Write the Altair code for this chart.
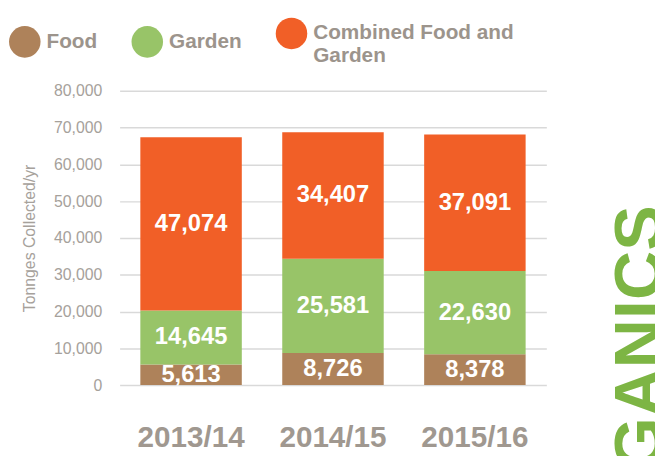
import altair as alt
import pandas as pd

years = ["2013/14", "2014/15", "2015/16"]
series = ["Food", "Garden", "Combined Food and Garden"]
food = [5613, 8726, 8378]
garden = [14645, 25581, 22630]
combined = [47074, 34407, 37091]
colors = ["#AE825A", "#98C468", "#F15F27"]
y_ticks = [0, 10000, 20000, 30000, 40000, 50000, 60000, 70000, 80000]
side_text = ["ORGANICS"]

rows = []
for i, yr in enumerate(years):
    for k, (s, vals) in enumerate(zip(series, [food, garden, combined])):
        rows.append({"year": yr, "series": s, "value": vals[i], "order": k})
df = pd.DataFrame(rows)

base = alt.Chart(df).transform_stack(
    stack="value", groupby=["year"], as_=["v0", "v1"], sort=[alt.SortField("order")]
).transform_calculate(mid="(datum.v0 + datum.v1) / 2")

xaxis = alt.Axis(
    labelFont="Liberation Sans",
    labelFontSize=30,
    labelFontWeight="bold",
    labelColor="#A09890",
    labelPadding=38,
    labelAngle=0,
    ticks=False,
    domain=False,
    grid=False,
)
xscale = alt.Scale(paddingInner=0.285, paddingOuter=0.146)

yaxis = alt.Axis(
    values=y_ticks,
    labelExpr="format(datum.value, ',')",
    labelFont="Liberation Sans",
    labelFontSize=16,
    labelColor="#A6A19B",
    labelPadding=18,
    ticks=False,
    domain=False,
    grid=True,
    gridColor="#D9D9D9",
    gridWidth=1.5,
    titleFont="Liberation Sans",
    titleFontSize=16,
    titleFontWeight="normal",
    titleColor="#A6A19B",
    titlePadding=16,
)
yscale = alt.Scale(domain=[0, 80000], nice=False)
ytitle = "Tonnges Collected/yr"

bars = base.mark_bar().encode(
    x=alt.X("year:N", title=None, sort=years, scale=xscale, axis=xaxis),
    y=alt.Y("v0:Q", title=ytitle, scale=yscale, axis=yaxis),
    y2="v1:Q",
    color=alt.Color(
        "series:N",
        scale=alt.Scale(domain=series, range=colors),
        legend=alt.Legend(
            title=None,
            orient="none",
            legendX=-112,
            legendY=-74,
            direction="horizontal",
            symbolType="circle",
            symbolSize=1018,
            symbolStrokeWidth=0,
            labelFont="Liberation Sans",
            labelFontSize=21,
            labelFontWeight="bold",
            labelColor="#9C948C",
            labelOffset=6,
            labelLimit=400,
            columnPadding=34,
            labelExpr="datum.label == 'Combined Food and Garden' ? ['Combined Food and', 'Garden'] : datum.label",
        ),
    ),
    order=alt.Order("order:Q"),
)

labels = base.mark_text(
    font="Liberation Sans",
    fontSize=24,
    fontWeight="bold",
    color="white",
    baseline="middle",
    align="center",
).encode(
    x=alt.X("year:N", title=None, sort=years, scale=xscale, axis=xaxis),
    y=alt.Y("mid:Q", title=ytitle, scale=yscale, axis=yaxis),
    text=alt.Text("value:Q", format=","),
)

side = alt.Chart(pd.DataFrame({"t": side_text})).mark_text(
    angle=270,
    align="right",
    baseline="alphabetic",
    font="Liberation Sans",
    fontSize=69,
    fontWeight="bold",
    color="#7DB544",
).encode(x=alt.value(549), y=alt.value(116), text="t:N")

chart = (
    alt.layer(bars, labels, side)
    .properties(
        width=432,
        height=298,
        autosize=alt.AutoSizeParams(type="none"),
        padding={"left": 113, "top": 81, "right": 110, "bottom": 69},
        background="white",
    )
    .configure_view(stroke=None)
)

chart.save("out.html", embed_options={"renderer": "svg", "actions": False})
